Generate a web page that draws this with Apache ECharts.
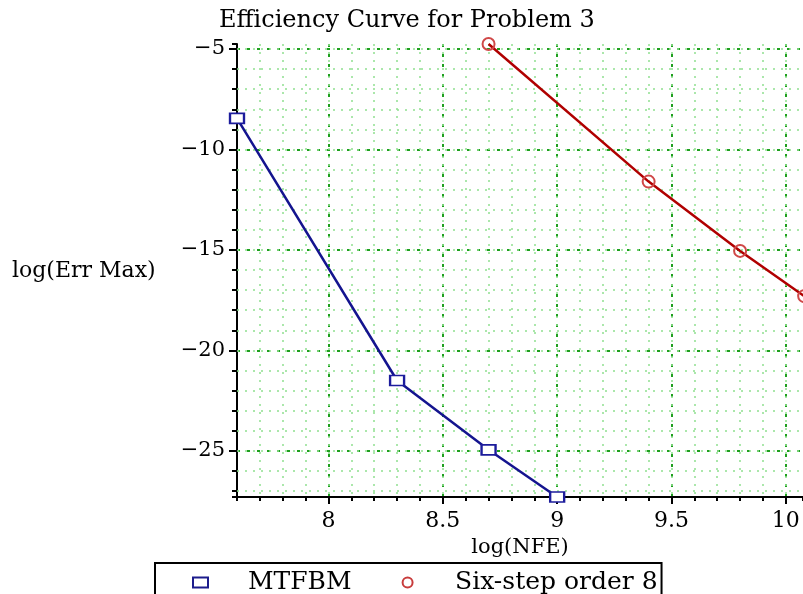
<!DOCTYPE html>
<html style="height: 100%">
<head>
<meta charset="utf-8">
<script src="https://cdn.jsdelivr.net/npm/echarts@6/dist/echarts.min.js"></script>
</head>
<body style="height: 100%; margin: 0; background: #fff">
<div id="container" style="width: 803px; height: 594px"></div>
<script>
// values
var nfeMTFBM = [7.6, 8.3, 8.7, 9.0];
var errMTFBM = [-8.45, -21.5, -24.95, -27.3];
var nfeSix = [8.7, 9.4, 9.8, 10.08];
var errSix = [-4.75, -11.6, -15.05, -17.3];
var seriesNames = ['MTFBM', 'Six-step order 8'];

var serif = 'DejaVu Serif';
var chart = echarts.init(document.getElementById('container'));

function pairs(xs, ys) {
    return xs.map(function (x, i) { return [x, ys[i]]; });
}
function minus(v) {
    return v < 0 ? '\u2212' + Math.abs(v) : String(v);
}

var majorSplit = { show: true, showMinLine: false, showMaxLine: false,
    lineStyle: { color: '#1f9f1f', type: [3, 7], width: 2 } };
var minorSplit = { show: true, showMinLine: false, showMaxLine: false,
    lineStyle: { color: '#90e090', type: [2, 6], width: 1.5 } };

var option = {
    backgroundColor: '#fff',
    animation: false,
    title: {
        text: 'Efficiency Curve for Problem 3',
        left: 214, top: 4,
        textStyle: { fontFamily: serif, fontWeight: 'normal', fontSize: 24, color: '#000' }
    },
    grid: { left: 237, right: 0, top: 44, bottom: 97 },
    xAxis: [{
        type: 'value', min: 7.6, max: 10.075, splitNumber: 5,
        name: 'log(NFE)', nameLocation: 'middle', nameGap: 31,
        nameTextStyle: { fontFamily: serif, fontSize: 21, color: '#000' },
        axisLine: { lineStyle: { color: '#000', width: 2 } },
        axisTick: { length: 7, lineStyle: { color: '#000', width: 2 } },
        axisLabel: { showMinLabel: false, showMaxLabel: false, margin: 13,
            fontFamily: serif, fontSize: 22, color: '#000' },
        splitLine: majorSplit
    }, {
        type: 'value', min: 7.6, max: 10.075, splitNumber: 25, position: 'bottom',
        axisLine: { show: false },
        axisTick: { length: 4, lineStyle: { color: '#000', width: 2 } },
        axisLabel: { show: false },
        splitLine: minorSplit, z: 1
    }],
    yAxis: [{
        type: 'value', min: -27.3, max: -4.75, splitNumber: 5,
        axisLine: { lineStyle: { color: '#000', width: 2 } },
        axisTick: { length: 8, lineStyle: { color: '#000', width: 2 } },
        axisLabel: { showMinLabel: false, showMaxLabel: false, margin: 12,
            fontFamily: serif, fontSize: 21, color: '#000', formatter: minus },
        splitLine: majorSplit
    }, {
        type: 'value', min: -27.3, max: -4.75, splitNumber: 22, position: 'left',
        axisLine: { show: false },
        axisTick: { length: 5, lineStyle: { color: '#000', width: 2 } },
        axisLabel: { show: false },
        splitLine: minorSplit, z: 1
    }],
    legend: {
        left: 155, top: 563,
        orient: 'horizontal',
        padding: [7, 4, 12, 37],
        borderColor: '#000', borderWidth: 2,
        itemWidth: 15, itemHeight: 10, itemGap: 50,
        textStyle: { fontFamily: serif, fontSize: 25, color: '#000', padding: [0, 0, 0, 35] },
        data: [
            { name: seriesNames[0], icon: 'rect',
              itemStyle: { color: 'transparent', borderColor: '#1c1c8c', borderWidth: 2 } },
            { name: seriesNames[1], icon: 'circle',
              itemStyle: { color: 'transparent', borderColor: '#c83c3c', borderWidth: 2 } }
        ]
    },
    graphic: [{
        type: 'text', left: 12, top: 260,
        style: { text: 'log(Err Max)', font: '22px "' + serif + '"', fill: '#000' }
    }],
    series: [{
        name: seriesNames[0], type: 'line', clip: false,
        data: pairs(nfeMTFBM, errMTFBM),
        symbol: 'rect', symbolSize: [14, 10],
        lineStyle: { color: '#14148f', width: 2.5 },
        itemStyle: { color: '#fff', borderColor: '#1c1c9c', borderWidth: 2 },
        z: 5
    }, {
        name: seriesNames[1], type: 'line', clip: false,
        data: pairs(nfeSix, errSix),
        symbol: 'circle', symbolSize: 12,
        lineStyle: { color: '#b00000', width: 2.5 },
        itemStyle: { color: 'rgba(255,255,255,0)', borderColor: '#d04848', borderWidth: 2 },
        z: 5
    }]
};
chart.setOption(option);
</script>
</body>
</html>
